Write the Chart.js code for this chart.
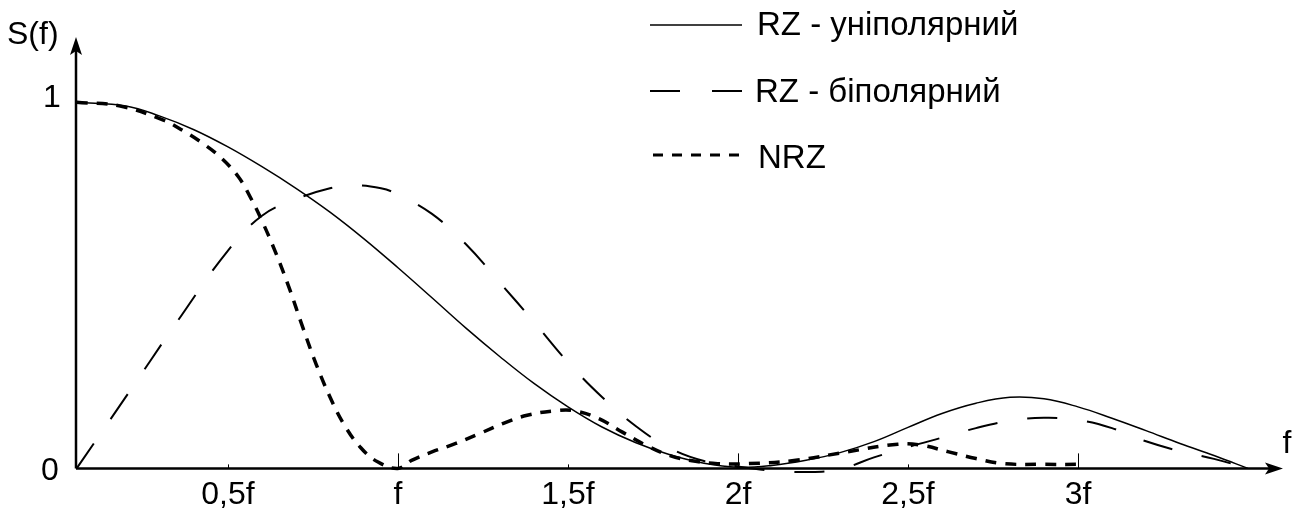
<!DOCTYPE html>
<html>
<head>
<meta charset="utf-8">
<script src="https://cdn.jsdelivr.net/npm/chart.js@4.4.1/dist/chart.umd.min.js"></script>
<style>
    html, body { margin: 0; padding: 0; background: #ffffff; }
    #wrap { width: 1302px; height: 512px; position: relative; }
</style>
</head>
<body>
<div id="wrap"><canvas id="spectrum"></canvas></div>
<script>
// Frequency in units of f, amplitude normalised to 1
const seriesNames = ['RZ - уніполярний', 'RZ - біполярний', 'NRZ'];

const freqUni = [0.055, 0.2, 0.3, 0.4, 0.5, 0.6, 0.7, 0.8, 0.9, 1.0, 1.1, 1.2, 1.3, 1.4, 1.5, 1.6, 1.7, 1.8, 1.9, 2.0, 2.1, 2.2, 2.3, 2.4, 2.5, 2.6, 2.7, 2.8, 2.9, 3.0, 3.1, 3.2, 3.3, 3.4, 3.5];
const valUni = [1.0, 0.99, 0.962, 0.925, 0.878, 0.824, 0.765, 0.7, 0.627, 0.548, 0.466, 0.383, 0.305, 0.232, 0.168, 0.113, 0.07, 0.037, 0.014, 0.003, 0.008, 0.022, 0.043, 0.073, 0.112, 0.15, 0.178, 0.194, 0.19, 0.168, 0.137, 0.103, 0.068, 0.035, 0.0];

const freqBi = [0.055, 0.2, 0.35, 0.5, 0.6, 0.7, 0.8, 0.87, 0.95, 1.0, 1.1, 1.2, 1.3, 1.4, 1.5, 1.6, 1.7, 1.8, 1.9, 2.0, 2.1, 2.2, 2.3, 2.4, 2.5, 2.6, 2.7, 2.8, 2.9, 3.0, 3.1, 3.2, 3.3, 3.4, 3.5];
const valBi = [0.0, 0.196, 0.4, 0.595, 0.69, 0.735, 0.765, 0.773, 0.765, 0.748, 0.695, 0.612, 0.507, 0.4, 0.29, 0.195, 0.115, 0.055, 0.02, 0.005, -0.006, -0.01, -0.002, 0.03, 0.058, 0.084, 0.11, 0.13, 0.138, 0.132, 0.11, 0.074, 0.047, 0.026, 0.0];

const freqNrz = [0.055, 0.18, 0.31, 0.37, 0.43, 0.48, 0.53, 0.565, 0.6, 0.64, 0.68, 0.72, 0.76, 0.8, 0.84, 0.89, 0.94, 1.0, 1.04, 1.1, 1.17, 1.24, 1.31, 1.38, 1.46, 1.52, 1.59, 1.66, 1.73, 1.8, 1.87, 1.94, 2.03, 2.17, 2.32, 2.47, 2.54, 2.62, 2.7, 2.78, 2.9, 3.01];
const valNrz = [1.0, 0.99, 0.951, 0.921, 0.885, 0.848, 0.797, 0.742, 0.676, 0.59, 0.493, 0.385, 0.283, 0.195, 0.122, 0.057, 0.018, 0.0, 0.022, 0.045, 0.068, 0.095, 0.123, 0.145, 0.157, 0.157, 0.136, 0.099, 0.063, 0.035, 0.02, 0.013, 0.013, 0.022, 0.045, 0.066, 0.063, 0.045, 0.027, 0.013, 0.011, 0.011];

const tickValues = [0.5, 1, 1.5, 2, 2.5, 3];
const tickLabels = ['0,5f', 'f', '1,5f', '2f', '2,5f', '3f'];

const TICK_FONT = '32px "Liberation Sans", Arial, sans-serif';
const LEGEND_FONT = '33px "Liberation Sans", Arial, sans-serif';

function toPoints(xs, ys) {
    return xs.map((x, i) => ({ x: x, y: ys[i] }));
}

// Axes with arrows, tick marks and labels
const axesPlugin = {
    id: 'axesPlugin',
    afterDraw(chart) {
        const ctx = chart.ctx;
        const xs = chart.scales.x;
        const ys = chart.scales.y;
        const x0 = xs.getPixelForValue(xs.min);
        const y0 = ys.getPixelForValue(0);
        const xEnd = xs.right;
        const yTop = ys.top + 8;

        ctx.save();
        ctx.strokeStyle = '#000';
        ctx.fillStyle = '#000';
        ctx.lineWidth = 2.5;
        ctx.beginPath();
        ctx.moveTo(x0, y0);
        ctx.lineTo(xEnd - 10, y0);
        ctx.moveTo(x0, y0);
        ctx.lineTo(x0, yTop + 10);
        ctx.stroke();

        // arrow heads
        ctx.beginPath();
        ctx.moveTo(xEnd, y0);
        ctx.lineTo(xEnd - 18, y0 - 6);
        ctx.lineTo(xEnd - 14, y0);
        ctx.lineTo(xEnd - 18, y0 + 6);
        ctx.closePath();
        ctx.fill();
        ctx.beginPath();
        ctx.moveTo(x0, yTop);
        ctx.lineTo(x0 - 6, yTop + 18);
        ctx.lineTo(x0, yTop + 14);
        ctx.lineTo(x0 + 6, yTop + 18);
        ctx.closePath();
        ctx.fill();

        // tick marks point up from the axis
        ctx.lineWidth = 1;
        tickValues.forEach(v => {
            const px = Math.round(xs.getPixelForValue(v)) + 0.5;
            const len = Number.isInteger(v) ? 15 : 4;
            ctx.beginPath();
            ctx.moveTo(px, y0);
            ctx.lineTo(px, y0 - len);
            ctx.stroke();
        });

        ctx.font = TICK_FONT;
        ctx.textAlign = 'center';
        ctx.textBaseline = 'alphabetic';
        tickValues.forEach((v, i) => {
            ctx.fillText(tickLabels[i], xs.getPixelForValue(v), y0 + 36);
        });
        ctx.fillText('0', 50, y0 + 12);
        ctx.fillText('1', 52, ys.getPixelForValue(1) + 5);
        ctx.fillText('f', 1287, 453);
        ctx.textAlign = 'left';
        ctx.fillText('S(f)', 7, 44);
        ctx.restore();
    }
};

// Legend drawn in the top right like the original figure
const legendPlugin = {
    id: 'legendPlugin',
    afterDraw(chart) {
        const ctx = chart.ctx;
        ctx.save();
        ctx.strokeStyle = '#000';
        ctx.fillStyle = '#000';
        ctx.font = LEGEND_FONT;
        ctx.textBaseline = 'alphabetic';
        ctx.textAlign = 'left';

        ctx.lineWidth = 1.5;
        ctx.beginPath();
        ctx.moveTo(650, 25);
        ctx.lineTo(742, 25);
        ctx.stroke();
        ctx.fillText(seriesNames[0], 757, 35);

        ctx.lineWidth = 2;
        ctx.beginPath();
        ctx.moveTo(650, 91);
        ctx.lineTo(680, 91);
        ctx.moveTo(712, 91);
        ctx.lineTo(742, 91);
        ctx.stroke();
        ctx.fillText(seriesNames[1], 755, 102);

        ctx.lineWidth = 3;
        ctx.setLineDash([10, 9]);
        ctx.beginPath();
        ctx.moveTo(653, 155);
        ctx.lineTo(741, 155);
        ctx.stroke();
        ctx.setLineDash([]);
        ctx.fillText(seriesNames[2], 758, 168);
        ctx.restore();
    }
};

new Chart(document.getElementById('spectrum'), {
    type: 'line',
    data: {
        datasets: [{
            label: seriesNames[0],
            data: toPoints(freqUni, valUni),
            borderColor: '#000',
            borderWidth: 1.5,
            pointRadius: 0,
            tension: 0.4
        }, {
            label: seriesNames[1],
            data: toPoints(freqBi, valBi),
            borderColor: '#000',
            borderWidth: 2,
            borderDash: [30, 30],
            pointRadius: 0,
            tension: 0.4
        }, {
            label: seriesNames[2],
            data: toPoints(freqNrz, valNrz),
            borderColor: '#000',
            borderWidth: 3.5,
            borderDash: [11, 9],
            pointRadius: 0,
            tension: 0.4
        }]
    },
    options: {
        responsive: true,
        maintainAspectRatio: false,
        animation: false,
        layout: {
            padding: { left: 76, right: 19, top: 29, bottom: 7 }
        },
        plugins: {
            legend: { display: false },
            tooltip: { enabled: false }
        },
        scales: {
            x: { type: 'linear', display: false, min: 0.053, max: 3.603 },
            y: { type: 'linear', display: false, min: -0.1, max: 1.2 }
        }
    },
    plugins: [axesPlugin, legendPlugin]
});
</script>
</body>
</html>
